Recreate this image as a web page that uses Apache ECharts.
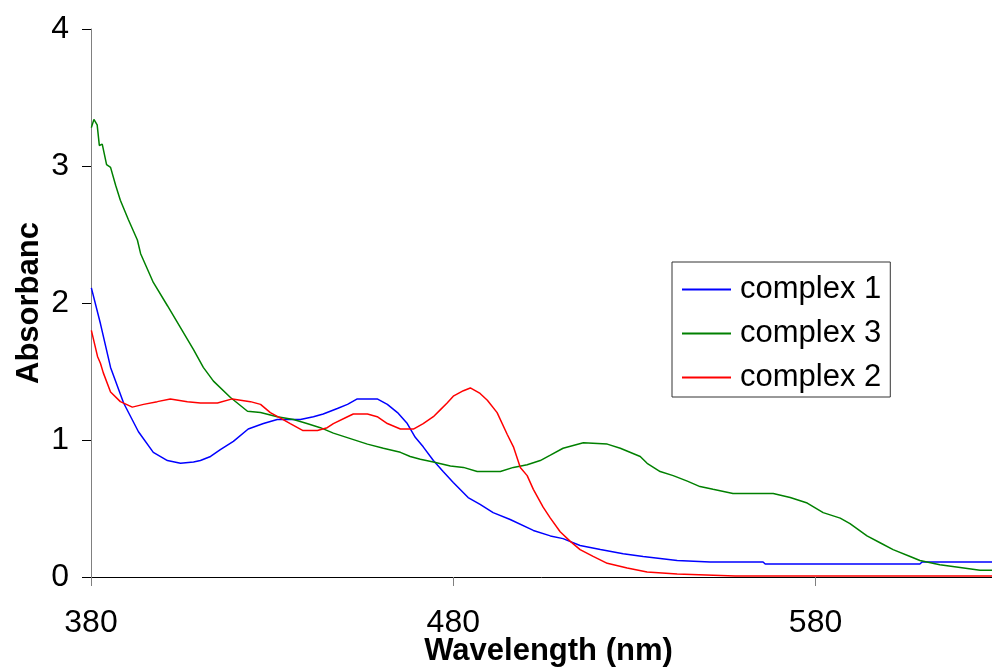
<!DOCTYPE html>
<html>
<head>
<meta charset="utf-8">
<script src="https://cdn.jsdelivr.net/npm/echarts@6/dist/echarts.min.js"></script>
<style>
  html, body { margin: 0; padding: 0; background: #ffffff; overflow: hidden; }
  #chart { position: absolute; left: 0; top: 0; width: 992px; height: 669px; }
</style>
</head>
<body>
<div id="chart"></div>
<script>
// Absorption spectra (wavelength in nm, absorbance)
const complex1Wl = [380.1,382.6,385.4,389.0,393.1,397.2,401.1,404.7,408.3,410.2,413.0,415.7,419.3,423.4,427.6,431.4,437.8,441.4,444.1,448.0,450.8,453.5,459.0,461.8,464.6,467.3,469.5,471.7,474.5,477.2,480.0,484.1,487.4,491.0,495.7,502.1,506.8,510.3,515.0,520.6,526.9,532.4,541.8,550.9,565.5,566.1,608.8,609.4,628.7];
const complex1Abs = [2.11,1.85,1.53,1.27,1.06,0.91,0.85,0.83,0.84,0.85,0.88,0.93,0.99,1.08,1.12,1.15,1.15,1.17,1.19,1.23,1.26,1.30,1.30,1.26,1.20,1.12,1.02,0.95,0.85,0.77,0.69,0.58,0.53,0.47,0.42,0.34,0.30,0.28,0.23,0.20,0.17,0.15,0.12,0.11,0.11,0.095,0.095,0.11,0.11];

const complex3Wl = [380.1,380.8,381.7,382.3,383.1,384.3,385.4,386.8,388.1,390.3,392.8,393.7,397.2,401.1,404.7,408.3,411.0,413.8,418.5,423.2,426.8,431.4,435.9,439.6,443.3,446.9,451.6,456.3,460.7,465.4,468.1,470.9,474.5,479.2,482.8,486.6,493.0,496.6,500.4,504.0,506.8,510.3,515.9,522.5,526.1,531.6,533.5,537.1,540.7,544.6,548.1,551.7,557.2,562.8,568.3,573.0,577.7,582.1,586.8,589.5,594.2,597.8,601.4,606.1,608.8,614.3,619.9,625.4,628.7];
const complex3Abs = [3.28,3.34,3.30,3.15,3.16,3.01,2.99,2.86,2.75,2.61,2.46,2.36,2.15,1.98,1.82,1.66,1.53,1.43,1.31,1.21,1.20,1.17,1.15,1.12,1.09,1.05,1.01,0.97,0.94,0.91,0.88,0.86,0.84,0.81,0.80,0.77,0.77,0.80,0.82,0.85,0.89,0.94,0.98,0.97,0.94,0.88,0.83,0.77,0.74,0.70,0.66,0.64,0.61,0.61,0.61,0.58,0.54,0.47,0.43,0.39,0.30,0.25,0.20,0.15,0.12,0.09,0.07,0.05,0.05];

const complex2Wl = [380.1,381.8,382.6,383.4,385.4,388.1,391.4,394.5,398.3,401.9,406.6,410.2,414.9,419.0,424.0,426.8,429.5,432.3,435.0,438.4,442.5,445.2,446.9,450.8,452.4,456.3,459.0,461.8,465.4,469.0,471.7,474.5,476.4,478.3,480.0,482.8,484.7,487.4,489.4,492.1,494.9,496.6,498.5,500.4,502.1,504.8,506.8,509.5,512.3,515.0,518.6,522.5,528.0,533.5,541.8,557.8,628.7];
const complex2Abs = [1.80,1.61,1.56,1.49,1.35,1.28,1.24,1.26,1.28,1.30,1.28,1.27,1.27,1.30,1.28,1.26,1.20,1.16,1.12,1.07,1.07,1.09,1.12,1.17,1.19,1.19,1.17,1.12,1.08,1.08,1.12,1.17,1.22,1.27,1.32,1.36,1.38,1.34,1.29,1.20,1.04,0.95,0.80,0.74,0.64,0.51,0.43,0.33,0.26,0.20,0.15,0.10,0.066,0.036,0.022,0.007,0.007];

const seriesNames = ['complex 1', 'complex 3', 'complex 2'];
const seriesColors = ['#0000ff', '#008000', '#ff0000'];

const pairs = (xs, ys) => xs.map((x, i) => [x, ys[i]]);
const seriesData = [
  pairs(complex1Wl, complex1Abs),
  pairs(complex3Wl, complex3Abs),
  pairs(complex2Wl, complex2Abs)
];

const FONT = "'Liberation Sans', Arial, sans-serif";

const chart = echarts.init(document.getElementById('chart'), null, {
  renderer: 'canvas', width: 992, height: 669
});

chart.setOption({
  animation: false,
  backgroundColor: '#ffffff',
  // fixed plot rectangle; labels and titles sit outside it
  grid: { left: 91, right: 0, top: 29, bottom: 92, containLabel: false, outerBoundsMode: 'none' },
  legend: {
    orient: 'vertical',
    left: 672,
    top: 262,
    width: 217,
    padding: [12, 9, 4, 10],
    itemGap: 13,
    itemWidth: 49,
    itemHeight: 2,
    icon: 'rect',
    backgroundColor: '#ffffff',
    borderColor: '#333333',
    borderWidth: 1,
    borderRadius: 0,
    data: seriesNames,
    textStyle: {
      fontFamily: FONT,
      fontSize: 31,
      color: '#000000',
      lineHeight: 31,
      padding: [0, 0, 0, 4]
    }
  },
  xAxis: {
    type: 'value',
    min: 380,
    max: 628.7,
    interval: 100,
    name: 'Wavelength (nm)',
    nameLocation: 'middle',
    nameGap: 59,
    nameMoveOverlap: false,
    nameTextStyle: { fontFamily: FONT, fontSize: 31, fontWeight: 'bold', color: '#000000', padding: [0, 0, 0, 14] },
    axisLine: { show: true, onZero: false, lineStyle: { color: '#000000', width: 1 } },
    axisTick: { show: true, inside: false, length: 9, lineStyle: { color: '#808080' } },
    axisLabel: { show: true, margin: 30, fontFamily: FONT, fontSize: 32, color: '#000000', showMaxLabel: false },
    splitLine: { show: false }
  },
  yAxis: {
    type: 'value',
    min: 0,
    max: 4,
    interval: 1,
    name: 'Absorbance',
    nameLocation: 'middle',
    nameRotate: 90,
    nameGap: 46,
    nameMoveOverlap: false,
    nameTruncate: { maxWidth: 165, ellipsis: '' },
    nameTextStyle: { fontFamily: FONT, fontSize: 31, fontWeight: 'bold', color: '#000000' },
    axisLine: { show: true, lineStyle: { color: '#808080', width: 1 } },
    axisTick: { show: true, inside: false, length: 9, lineStyle: { color: '#000000' } },
    axisLabel: { show: true, margin: 22, fontFamily: FONT, fontSize: 32, color: '#000000' },
    splitLine: { show: false }
  },
  series: seriesNames.map((name, i) => ({
    name: name,
    type: 'line',
    data: seriesData[i],
    showSymbol: false,
    symbol: 'none',
    smooth: false,
    color: seriesColors[i],
    lineStyle: { color: seriesColors[i], width: 1.5 },
    emphasis: { disabled: true }
  }))
});
</script>
</body>
</html>
